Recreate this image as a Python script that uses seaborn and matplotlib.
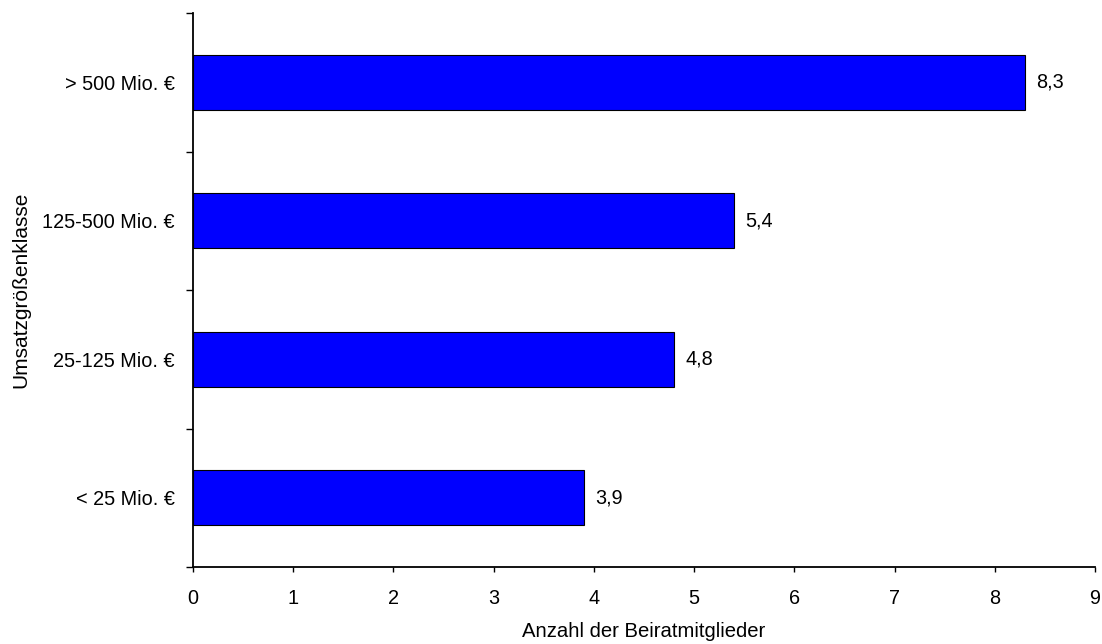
import matplotlib
matplotlib.use("Agg")
import matplotlib.pyplot as plt
import seaborn as sns
import pandas as pd
import numpy as np

# Umsatzgrößenklassen (top to bottom) and average number of advisory board members
categories = ["> 500 Mio. €", "125-500 Mio. €", "25-125 Mio. €", "< 25 Mio. €"]
values = [8.3, 5.4, 4.8, 3.9]
x_ticks = list(range(0, 10))

df = pd.DataFrame({"Klasse": categories, "Anzahl": values})

sns.set_theme(style="white")
plt.rcParams["font.family"] = ["Liberation Sans", "DejaVu Sans"]

fig = plt.figure(figsize=(11.02, 6.44), dpi=100)
ax = fig.add_axes([193 / 1102, 77 / 644, (1095 - 193) / 1102, (567 - 13) / 644])

sns.barplot(data=df, x="Anzahl", y="Klasse", order=categories, orient="h",
            color="#0000FF", saturation=1, width=0.4,
            edgecolor="black", linewidth=0.8, ax=ax)

# value labels with German decimal comma
for container in ax.containers:
    ax.bar_label(container, labels=[f"{v:.1f}".replace(".", ",") for v in values],
                 padding=8, fontsize=14.3, color="black")

ax.set_xlim(0, 9)
ax.set_ylim(len(categories) - 0.5, -0.5)
ax.set_xticks(x_ticks)
ax.set_xticklabels([str(t) for t in x_ticks])

# category labels at bar centres, tick marks at category boundaries
ax.set_yticks(np.arange(len(categories)))
ax.set_yticklabels(categories)
ax.set_yticks(np.arange(len(categories) + 1) - 0.5, minor=True)
ax.tick_params(axis="y", which="major", length=0, pad=13, labelsize=14.3, colors="black")
ax.tick_params(axis="y", which="minor", left=True, length=5, width=1, color="black")
ax.tick_params(axis="x", which="major", bottom=True, length=3.5, width=1,
               pad=12.5, labelsize=14.3, colors="black")

ax.set_xlabel("Anzahl der Beiratmitglieder", fontsize=14.6, labelpad=10, color="black")
ax.set_ylabel("Umsatzgrößenklasse", fontsize=15, labelpad=9, color="black")

for side in ("top", "right"):
    ax.spines[side].set_visible(False)
for side in ("left", "bottom"):
    ax.spines[side].set_visible(True)
    ax.spines[side].set_color("black")
    ax.spines[side].set_linewidth(1.3)

ax.grid(False)
fig.savefig("out.png", dpi=100, facecolor="white")
